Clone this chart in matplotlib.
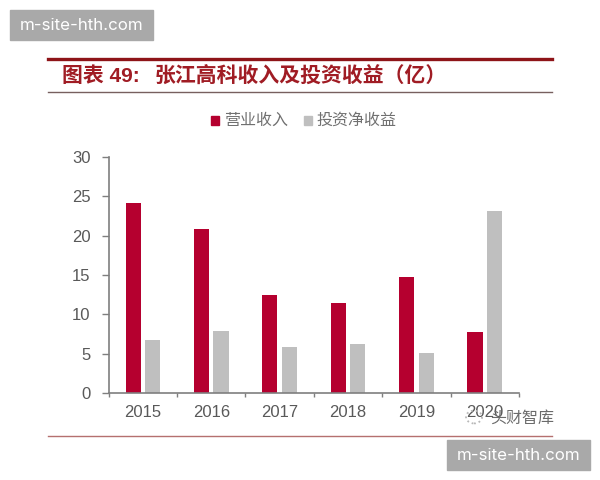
import numpy as np
import matplotlib
matplotlib.use("Agg")
import matplotlib.pyplot as plt
from matplotlib.patches import Rectangle, Circle

plt.rcParams['font.family'] = ['Liberation Sans', 'Noto Sans CJK SC', 'DejaVu Sans']

years = ["2015", "2016", "2017", "2018", "2019", "2020"]
revenue = [24.2, 20.8, 12.5, 11.4, 14.7, 7.7]
invest = [6.7, 7.9, 5.9, 6.2, 5.1, 23.1]
yticks = [0, 5, 10, 15, 20, 25, 30]

title_a = "图表 49:"
title_b = "张江高科收入及投资收益（亿）"
name_rev = "营业收入"
name_inv = "投资净收益"
wm = "m-site-hth.com"
wm2 = "头财智库"

RED = "#b5002f"
GREY = "#bfbfbf"
AXC = "#7f7f7f"
TXT = "#595959"

W, H = 600, 480
fig = plt.figure(figsize=(W / 100, H / 100), dpi=100)


def fx(x):
    return x / W


def fy(y):
    return 1 - y / H


# plot area
ax = fig.add_axes([fx(108.7), fy(393), fx(519 - 108.7), (393 - 157) / H])
x = np.arange(len(years))
ax.bar(x - 0.143, revenue, 0.222, color=RED, label=name_rev)
ax.bar(x + 0.143, invest, 0.222, color=GREY, label=name_inv)
ax.set_xlim(-0.5, 5.5)
ax.set_ylim(0, 30)
ax.set_yticks(yticks)
ax.set_xticks(np.arange(7) - 0.5, minor=False)
ax.set_xticklabels([])
for i, y in enumerate(years):
    ax.text(i, -2.45, y, ha="center", va="center", fontsize=12, color=TXT)
ax.tick_params(axis="y", length=5, width=1, color=AXC, labelcolor=TXT, labelsize=12, pad=8)
ax.tick_params(axis="x", length=3, width=1, color=AXC)
for s in ["top", "right"]:
    ax.spines[s].set_visible(False)
for s in ["left", "bottom"]:
    ax.spines[s].set_color(AXC)
    ax.spines[s].set_linewidth(1.2)

# header and footer rules
fig.add_artist(plt.Line2D([fx(48), fx(552)], [fy(58.5)] * 2, color="#8e1418", lw=2.4))
fig.add_artist(plt.Line2D([fx(48), fx(552)], [fy(92)] * 2, color="#77605f", lw=1))
fig.add_artist(plt.Line2D([fx(48), fx(552)], [fy(435.5)] * 2, color="#b5706f", lw=1))

fig.text(fx(62), fy(76), title_a, fontsize=15, fontweight="bold", color="#a01c24",
         ha="left", va="center")
fig.text(fx(155), fy(76), title_b, fontsize=15, fontweight="bold", color="#a01c24",
         ha="left", va="center")

# legend
fig.add_artist(Rectangle((fx(211), fy(124.5)), 8 / W, 8 / H, color=RED, transform=fig.transFigure))
fig.text(fx(224), fy(120), name_rev, fontsize=11.5, color="#707070", ha="left", va="center")
fig.add_artist(Rectangle((fx(304), fy(124.5)), 8 / W, 8 / H, color=GREY, transform=fig.transFigure))
fig.text(fx(316), fy(120), name_inv, fontsize=11.5, color="#707070", ha="left", va="center")

# watermarks
for x0, y0, w, h in [(10, 10, 143, 30), (447, 440, 143, 30)]:
    fig.add_artist(Rectangle((fx(x0), fy(y0 + h)), w / W, h / H, color="#a9a9a9",
                             transform=fig.transFigure, zorder=5))
    fig.text(fx(x0 + w / 2), fy(y0 + h / 2), wm, fontsize=12.2, color="white",
             ha="center", va="center", zorder=6, family=["Inter", "DejaVu Sans"])
fig.add_artist(Circle((fx(474), fy(417)), 8 / W, fill=False, ec="#b8b8b8", ls=":", lw=1.3,
                      transform=fig.transFigure))
fig.text(fx(490), fy(418), wm2, fontsize=11.5, color="#6a6a6a", ha="left", va="center")

fig.savefig("out.png", dpi=100)
